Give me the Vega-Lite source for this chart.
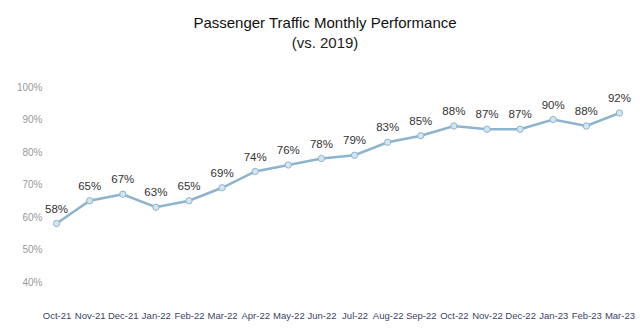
{
  "$schema": "https://vega.github.io/schema/vega-lite/v6.json",
  "width": 596,
  "height": 195,
  "autosize": {"type": "none"},
  "padding": {"left": 40, "top": 87, "right": 4, "bottom": 54},
  "background": "white",
  "title": {
    "text": "Passenger Traffic Monthly Performance",
    "subtitle": "(vs. 2019)",
    "font": "Liberation Sans",
    "subtitleFont": "Liberation Sans",
    "fontSize": 15,
    "subtitleFontSize": 15,
    "fontWeight": "normal",
    "color": "#111111",
    "subtitleColor": "#222222",
    "anchor": "middle",
    "dx": -13,
    "offset": 31,
    "subtitlePadding": 5
  },
  "data": {
    "values": [
      {"month": "Oct-21", "value": 0.58},
      {"month": "Nov-21", "value": 0.65},
      {"month": "Dec-21", "value": 0.67},
      {"month": "Jan-22", "value": 0.63},
      {"month": "Feb-22", "value": 0.65},
      {"month": "Mar-22", "value": 0.69},
      {"month": "Apr-22", "value": 0.74},
      {"month": "May-22", "value": 0.76},
      {"month": "Jun-22", "value": 0.78},
      {"month": "Jul-22", "value": 0.79},
      {"month": "Aug-22", "value": 0.83},
      {"month": "Sep-22", "value": 0.85},
      {"month": "Oct-22", "value": 0.88},
      {"month": "Nov-22", "value": 0.87},
      {"month": "Dec-22", "value": 0.87},
      {"month": "Jan-23", "value": 0.90},
      {"month": "Feb-23", "value": 0.88},
      {"month": "Mar-23", "value": 0.92}
    ]
  },
  "encoding": {
    "x": {
      "field": "month",
      "type": "ordinal",
      "sort": null,
      "scale": {"type": "point", "padding": 0.5},
      "axis": {
        "title": null,
        "labelAngle": 0,
        "domain": false,
        "ticks": false,
        "grid": false,
        "labelPadding": 28,
        "labelFont": "Liberation Sans",
        "labelFontSize": 9.5,
        "labelColor": "#3b4466"
      }
    },
    "y": {
      "field": "value",
      "type": "quantitative",
      "scale": {"domain": [0.4, 1.0]},
      "axis": {
        "title": null,
        "format": ".0%",
        "values": [0.4, 0.5, 0.6, 0.7, 0.8, 0.9, 1.0],
        "domain": false,
        "ticks": false,
        "grid": false,
        "labelPadding": -2,
        "labelFont": "Liberation Sans",
        "labelFontSize": 10,
        "labelColor": "#999999"
      }
    }
  },
  "layer": [
    {
      "mark": {"type": "line", "color": "#8db4cf", "strokeWidth": 2.5}
    },
    {
      "mark": {"type": "point", "filled": true, "size": 40, "fill": "#d3e6ef", "stroke": "#8db4cf", "strokeWidth": 1, "opacity": 1}
    },
    {
      "mark": {"type": "text", "dy": -14, "font": "Liberation Sans", "fontSize": 11.5, "color": "#333333"},
      "encoding": {"text": {"field": "value", "type": "quantitative", "format": ".0%"}}
    }
  ],
  "config": {"view": {"stroke": null}}
}
